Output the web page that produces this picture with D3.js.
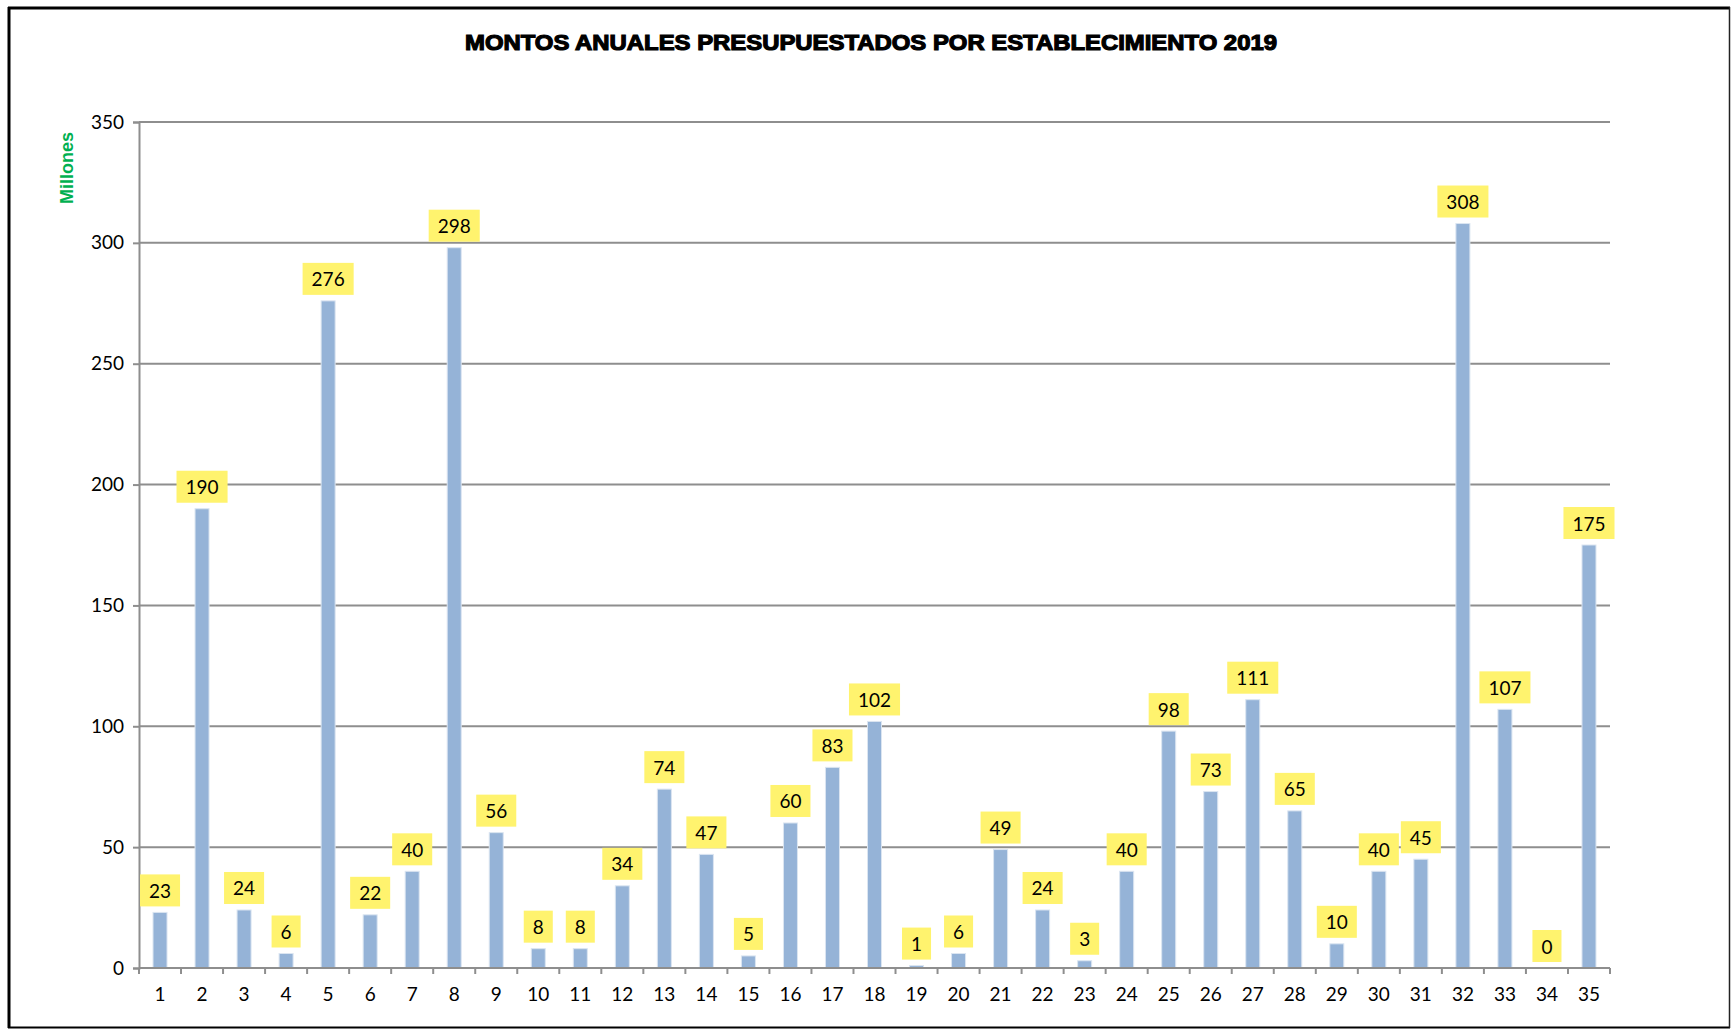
<!DOCTYPE html>
<html>
<head>
<meta charset="utf-8">
<script src="https://cdn.jsdelivr.net/npm/d3@7"></script>
<style>
  html, body { margin: 0; padding: 0; background: #fff; }
  svg { display: block; }
</style>
</head>
<body>
<svg id="chart" width="1732" height="1029"></svg>
<script>
const categories = ["1","2","3","4","5","6","7","8","9","10","11","12","13","14","15","16","17","18","19","20","21","22","23","24","25","26","27","28","29","30","31","32","33","34","35"];
const values = [23,190,24,6,276,22,40,298,56,8,8,34,74,47,5,60,83,102,1,6,49,24,3,40,98,73,111,65,10,40,45,308,107,0,175];
const yTicks = [0,50,100,150,200,250,300,350];
const title = "MONTOS ANUALES PRESUPUESTADOS POR ESTABLECIMIENTO 2019";
const yTitle = "Millones";

(function () {
const FONT = "Lato, 'Open Sans', sans-serif";
const FS = 19;
const svg = d3.select("#chart");

const plotLeft = 139, plotRight = 1610, plotTop = 122, plotBottom = 968;

// frame
svg.append("rect").attr("x",0).attr("y",0).attr("width",1732).attr("height",1029).attr("fill","#fff");
svg.append("line").attr("x1",8).attr("x2",1730).attr("y1",8).attr("y2",8).attr("stroke","#000").attr("stroke-width",3);
svg.append("line").attr("x1",9).attr("x2",9).attr("y1",7).attr("y2",1028).attr("stroke","#000").attr("stroke-width",3);
svg.append("line").attr("x1",8).attr("x2",1730).attr("y1",1027.5).attr("y2",1027.5).attr("stroke","#000").attr("stroke-width",2);
svg.append("line").attr("x1",1729.5).attr("x2",1729.5).attr("y1",7).attr("y2",1028).attr("stroke","#222").attr("stroke-width",1.5);

const x = d3.scaleBand().domain(categories).range([plotLeft, plotRight]).paddingInner(2/3).paddingOuter(1/3);
const y = d3.scaleLinear().domain([0, 350]).range([plotBottom, plotTop]);

// gridlines
svg.append("g").selectAll("line").data(yTicks.filter(t => t > 0)).join("line")
  .attr("x1", plotLeft).attr("x2", plotRight)
  .attr("y1", d => y(d)).attr("y2", d => y(d))
  .attr("stroke", "#8e8e8e").attr("stroke-width", 2);

// y axis
const yAxis = svg.append("g").attr("transform", `translate(${plotLeft},0)`)
  .call(d3.axisLeft(y).tickValues(yTicks).tickSize(6).tickPadding(9).tickFormat(d3.format("d")));
yAxis.select(".domain").attr("stroke", "#8e8e8e").attr("stroke-width", 2);
yAxis.selectAll(".tick line").attr("stroke", "#8e8e8e").attr("stroke-width", 2);
yAxis.selectAll(".tick text").attr("font-family", FONT).attr("font-size", FS).attr("fill", "#000");

// bars
svg.append("g").selectAll("rect").data(values).join("rect")
  .attr("x", (d, i) => x(categories[i]))
  .attr("width", x.bandwidth())
  .attr("y", d => y(d))
  .attr("height", d => y(0) - y(d))
  .attr("fill", "#95b3d7")
  .attr("stroke", "#dbe5f1").attr("stroke-width", 1);

// x axis
const gap = (x.step() - x.bandwidth()) / 2;
const boundaries = categories.map(c => x(c) - gap).concat([plotRight]);
svg.append("line").attr("x1", plotLeft).attr("x2", plotRight).attr("y1", plotBottom).attr("y2", plotBottom)
  .attr("stroke", "#8e8e8e").attr("stroke-width", 2);
svg.append("g").selectAll("line").data(boundaries).join("line")
  .attr("x1", d => d).attr("x2", d => d).attr("y1", plotBottom).attr("y2", plotBottom + 6)
  .attr("stroke", "#8e8e8e").attr("stroke-width", 2);
svg.append("g").selectAll("text").data(categories).join("text")
  .attr("x", d => x(d) + x.bandwidth() / 2).attr("y", 993)
  .attr("text-anchor", "middle").attr("dominant-baseline", "central")
  .attr("font-family", FONT).attr("font-size", FS).attr("fill", "#000")
  .text(d => d);

// data labels
const lg = svg.append("g");
values.forEach((v, i) => {
  const cx = x(categories[i]) + x.bandwidth() / 2;
  const g = lg.append("g");
  const boxBottom = y(v) - 6;
  const t = g.append("text")
    .attr("x", cx).attr("y", boxBottom - 16)
    .attr("text-anchor", "middle").attr("dominant-baseline", "central")
    .attr("font-family", FONT).attr("font-size", FS).attr("fill", "#000")
    .text(d3.format("d")(v));
  const w = t.node().getComputedTextLength() + 18;
  g.insert("rect", "text")
    .attr("x", cx - w / 2).attr("y", boxBottom - 32)
    .attr("width", w).attr("height", 32)
    .attr("fill", "#fff36e");
});

// title
svg.append("text").attr("x", 871).attr("y", 42)
  .attr("text-anchor", "middle").attr("dominant-baseline", "central")
  .attr("font-family", "'Liberation Sans', Arial, sans-serif").attr("font-weight", "bold")
  .attr("font-size", 22).attr("fill", "#000").attr("stroke", "#000").attr("stroke-width", 1.2)
  .attr("textLength", 812).attr("lengthAdjust", "spacingAndGlyphs")
  .text(title);

// y title
svg.append("text").attr("transform", "translate(67,168) rotate(-90)")
  .attr("text-anchor", "middle").attr("dominant-baseline", "central")
  .attr("font-family", "'Liberation Sans', Arial, sans-serif").attr("font-weight", "bold")
  .attr("font-size", 18).attr("fill", "#00b050")
  .text(yTitle);
})();
</script>
</body>
</html>
